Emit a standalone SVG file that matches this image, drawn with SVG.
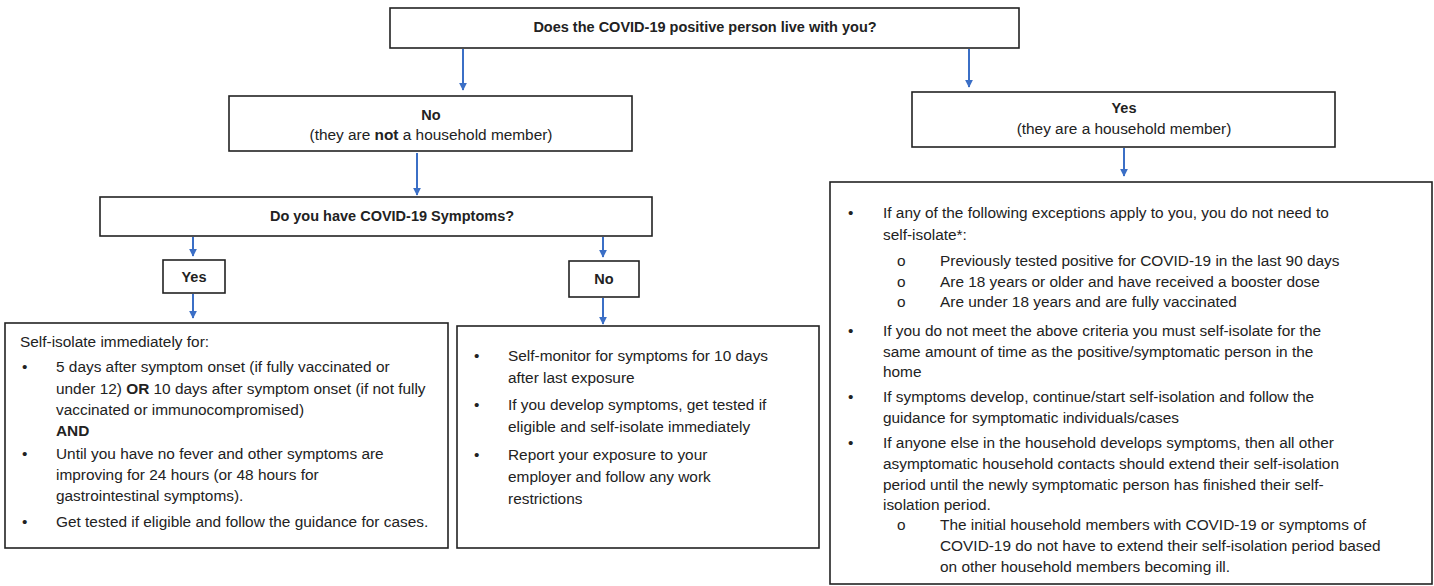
<svg xmlns="http://www.w3.org/2000/svg" width="1434" height="586" viewBox="0 0 1434 586">
<defs>
<marker id="ah" viewBox="0 0 10 10" refX="9" refY="5" markerWidth="4" markerHeight="4" orient="auto" markerUnits="strokeWidth">
<path d="M0,0 L10,5 L0,10 z" fill="#3b6fc6"/>
</marker>
<style>
.box{fill:#fff;stroke:#222;stroke-width:1.6}
.t{font-family:"Liberation Sans",Arial,sans-serif;font-size:15.4px;fill:#222}
.h{font-family:"Liberation Sans",Arial,sans-serif;font-size:14.5px;font-weight:bold;fill:#222}
.b{font-weight:bold}
.c{text-anchor:middle}
.con{stroke:#3b6fc6;stroke-width:2;fill:none;marker-end:url(#ah)}
</style>
</defs>
<rect width="1434" height="586" fill="#fff"/>
<g id="connectors">
<line class="con" x1="463" y1="49" x2="463" y2="90"/>
<line class="con" x1="969" y1="49" x2="969" y2="87"/>
<line class="con" x1="417" y1="153" x2="417" y2="195"/>
<line class="con" x1="1124" y1="148" x2="1124" y2="176"/>
<line class="con" x1="193" y1="237" x2="193" y2="256"/>
<line class="con" x1="603" y1="237" x2="603" y2="257"/>
<line class="con" x1="193" y1="294" x2="193" y2="318"/>
<line class="con" x1="603" y1="298" x2="603" y2="324"/>
</g>
<g id="q1">
<rect class="box" x="390" y="8" width="629" height="40"/>
<text class="h c" x="705" y="32">Does the COVID-19 positive person live with you?</text>
</g>
<g id="no-household">
<rect class="box" x="229" y="96" width="403" height="55"/>
<text class="h c" x="431" y="120">No</text>
<text class="t c" x="431" y="140">(they are <tspan class="b">not</tspan> a household member)</text>
</g>
<g id="yes-household">
<rect class="box" x="912" y="92" width="423" height="55"/>
<text class="h c" x="1124" y="113">Yes</text>
<text class="t c" x="1124" y="134">(they are a household member)</text>
</g>
<g id="q2">
<rect class="box" x="100" y="197" width="552" height="39"/>
<text class="h c" x="392" y="221">Do you have COVID-19 Symptoms?</text>
</g>
<g id="yes-symptoms">
<rect class="box" x="163" y="260" width="62" height="33"/>
<text class="h c" x="194" y="282">Yes</text>
</g>
<g id="no-symptoms">
<rect class="box" x="569" y="261" width="70" height="36"/>
<text class="h c" x="604" y="284">No</text>
</g>
<g id="self-isolate">
<rect class="box" x="5" y="323" width="443" height="225"/>
<text class="t" x="20" y="347">Self-isolate immediately for:</text>
<text class="t" x="22" y="372">•</text>
<text class="t" x="56" y="372">5 days after symptom onset (if fully vaccinated or</text>
<text class="t" x="56" y="394">under 12) <tspan class="b">OR</tspan> 10 days after symptom onset (if not fully</text>
<text class="t" x="56" y="415">vaccinated or immunocompromised)</text>
<text class="t b" x="56" y="436">AND</text>
<text class="t" x="22" y="459">•</text>
<text class="t" x="56" y="459">Until you have no fever and other symptoms are</text>
<text class="t" x="56" y="480">improving for 24 hours (or 48 hours for</text>
<text class="t" x="56" y="501">gastrointestinal symptoms).</text>
<text class="t" x="22" y="527">•</text>
<text class="t" x="56" y="527">Get tested if eligible and follow the guidance for cases.</text>
</g>
<g id="self-monitor">
<rect class="box" x="457" y="326" width="362" height="222"/>
<text class="t" x="474" y="361">•</text>
<text class="t" x="508" y="361">Self-monitor for symptoms for 10 days</text>
<text class="t" x="508" y="383">after last exposure</text>
<text class="t" x="474" y="410">•</text>
<text class="t" x="508" y="410">If you develop symptoms, get tested if</text>
<text class="t" x="508" y="432">eligible and self-isolate immediately</text>
<text class="t" x="474" y="460">•</text>
<text class="t" x="508" y="460">Report your exposure to your</text>
<text class="t" x="508" y="482">employer and follow any work</text>
<text class="t" x="508" y="504">restrictions</text>
</g>
<g id="household-guidance">
<rect class="box" x="830" y="182" width="602" height="402"/>
<text class="t" x="848" y="218">•</text>
<text class="t" x="883" y="218">If any of the following exceptions apply to you, you do not need to</text>
<text class="t" x="883" y="240">self-isolate*:</text>
<text class="t" x="897" y="266">o</text>
<text class="t" x="940" y="266">Previously tested positive for COVID-19 in the last 90 days</text>
<text class="t" x="897" y="287">o</text>
<text class="t" x="940" y="287">Are 18 years or older and have received a booster dose</text>
<text class="t" x="897" y="307">o</text>
<text class="t" x="940" y="307">Are under 18 years and are fully vaccinated</text>
<text class="t" x="848" y="336">•</text>
<text class="t" x="883" y="336">If you do not meet the above criteria you must self-isolate for the</text>
<text class="t" x="883" y="357">same amount of time as the positive/symptomatic person in the</text>
<text class="t" x="883" y="377">home</text>
<text class="t" x="848" y="402">•</text>
<text class="t" x="883" y="402">If symptoms develop, continue/start self-isolation and follow the</text>
<text class="t" x="883" y="423">guidance for symptomatic individuals/cases</text>
<text class="t" x="848" y="448">•</text>
<text class="t" x="883" y="448">If anyone else in the household develops symptoms, then all other</text>
<text class="t" x="883" y="469">asymptomatic household contacts should extend their self-isolation</text>
<text class="t" x="883" y="490">period until the newly symptomatic person has finished their self-</text>
<text class="t" x="883" y="510">isolation period.</text>
<text class="t" x="897" y="530">o</text>
<text class="t" x="940" y="530">The initial household members with COVID-19 or symptoms of</text>
<text class="t" x="940" y="551">COVID-19 do not have to extend their self-isolation period based</text>
<text class="t" x="940" y="572">on other household members becoming ill.</text>
</g>
</svg>
